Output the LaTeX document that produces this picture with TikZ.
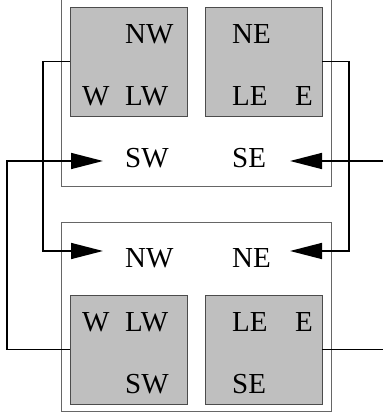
\documentclass[tikz,border=0pt]{standalone}
\usepackage{fontspec}
\setmainfont{Liberation Serif}
\usetikzlibrary{arrows.meta}
\begin{document}
\begin{tikzpicture}[x=1pt,y=1pt,
  frame/.style={draw=black!60,line width=1pt},
  cell/.style={draw=black!70,fill=black!25,line width=0.9pt,minimum width=117pt,minimum height=109pt,inner sep=0pt},
  lbl/.style={anchor=base west,inner sep=0pt,font=\rmfamily\fontsize{29}{34}\selectfont},
  wire/.style={draw=black,line width=1.5pt},
  feed/.style={wire,-{Triangle[length=32pt,width=16pt]}}]
\useasboundingbox (0,0) rectangle (383,417);
% outer frames
\draw[frame] (61,430) rectangle (331,230);
\draw[frame] (61,194) rectangle (331,5);
% upper unit
\node[cell] (ul) at (128.5,355.5) {};
\node[cell] (ur) at (263.5,355.5) {};
\node[lbl] (ulnw) at (125,373) {NW};
\node[lbl] (ulw) at (82,311) {W};
\node[lbl] (ullw) at (125,311) {LW};
\node[lbl] (urne) at (232,373) {NE};
\node[lbl] (urle) at (232,311) {LE};
\node[lbl] (ure) at (295,311) {E};
\node[lbl] (usw) at (125,249) {SW};
\node[lbl] (use) at (232,249) {SE};
% lower unit
\node[cell] (ll) at (128.5,67.5) {};
\node[cell] (lr) at (263.5,67.5) {};
\node[lbl] (lnw) at (125,149) {NW};
\node[lbl] (lne) at (232,149) {NE};
\node[lbl] (llw) at (82,85) {W};
\node[lbl] (lllw) at (125,85) {LW};
\node[lbl] (lrle) at (232,85) {LE};
\node[lbl] (lre) at (295,85) {E};
\node[lbl] (llsw) at (125,23) {SW};
\node[lbl] (lrse) at (232,23) {SE};
% wire ends
\coordinate (tipnw) at (103,166);
\coordinate (tipne) at (290,166);
\coordinate (tipsw) at (103,256);
\coordinate (tipse) at (290,256);
\coordinate (inse) at (383,256);
\coordinate (oute) at (383,67.5);
% connections
\draw[feed] (ul.west) -| (43,166) -- (tipnw);
\draw[feed] (ur.east) -| (349,166) -- (tipne);
\draw[feed] (ll.west) -| (7,256) -- (tipsw);
\draw[feed] (inse) -- (tipse);
\draw[wire] (lr.east) -- (oute);
\end{tikzpicture}
\end{document}
